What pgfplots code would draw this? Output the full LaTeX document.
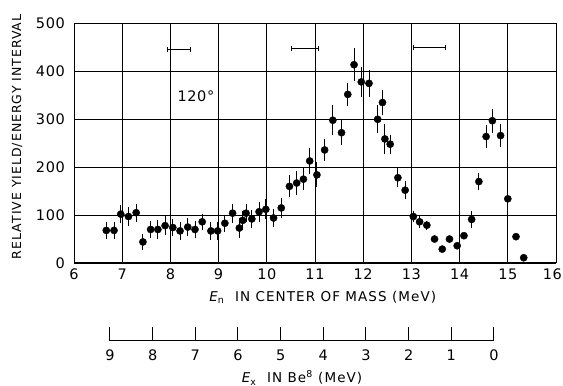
\documentclass[border=0pt]{standalone}
\usepackage{pgfplots}
\pgfplotsset{compat=1.18}
\usepackage{fontspec}
\setmainfont{DejaVu Sans}
\newfontfamily\lab[LetterSpace=8]{DejaVu Sans}
\newfontfamily\tck[LetterSpace=4]{DejaVu Sans}
\begin{document}
\begin{tikzpicture}
\useasboundingbox (0,0) rectangle (563pt,386pt);
\begin{axis}[
  at={(74pt,123pt)}, anchor=south west,
  width=482pt, height=239.5pt, scale only axis,
  xmin=6, xmax=16, ymin=0, ymax=500,
  xtick={6,...,15}, ytick={0,100,...,500},
  extra x ticks={16},
  extra x tick style={grid=none, xticklabel style={anchor=north east, xshift=6pt}},
  grid=major,
  major grid style={black, line width=0.7pt},
  axis line style={black, line width=1pt},
  major tick length=0pt,
  /pgf/number format/assume math mode=true,
  tick label style={font=\tck\fontsize{14.5}{14.5}\selectfont, inner sep=0pt},
  yticklabel style={anchor=east, xshift=-9pt},
  xticklabel style={anchor=north, yshift=-6pt},
  xlabel={{\itshape E}\textsubscript{n}\ \ IN CENTER OF MASS (MeV)},
  xlabel style={font=\lab\fontsize{13.5}{13.5}\selectfont, at={(axis description cs:0.516,-0.143)}, anchor=center},
  ylabel={RELATIVE YIELD/ENERGY INTERVAL},
  ylabel style={font=\lab\fontsize{12.5}{12.5}\selectfont, at={(axis description cs:-0.118,0.527)}, anchor=center, rotate=0},
  clip=false,
]
\addplot[black, only marks, mark=*, mark size=3.6pt,
  error bars/.cd, y dir=both, y explicit,
  error bar style={black, line width=0.9pt},
  error mark options={black, line width=0.9pt, mark size=2pt}]
  table[x=x, y=y, y error=e] {
x y e
6.67 68 14
6.83 68 13
6.97 102 15
7.13 97 15
7.29 105 15
7.43 44 12
7.59 70 14
7.74 70 15
7.89 78 15
8.05 74 13
8.20 67 14
8.36 75 14
8.51 70 14
8.66 86 13
8.84 67 14
8.98 67 15
9.13 83 14
9.29 104 16
9.43 73 17
9.50 89 15
9.57 104 15
9.69 92 15
9.84 107 17
9.98 112 17
10.14 94 15
10.30 115 17
10.47 160 19
10.62 167 20
10.76 175 19
10.89 213 23
11.04 184 22
11.20 236 18
11.37 298 27
11.55 272 22
11.68 352 20
11.81 414 30
11.96 378 27
12.12 375 24
12.30 300 25
12.40 335 22
12.45 259 28
12.56 248 16
12.72 178 16
12.87 152 15
13.04 97 8
13.17 86 8
13.32 79 5
14.25 91 13
14.40 170 14
14.55 264 20
14.68 297 21
14.85 266 20
15.00 134 14
};
\addplot[black, only marks, mark=*, mark size=3.6pt] table {
13.48 50
13.64 29
13.79 50
13.95 36
14.09 57
15.17 55
15.33 11
};
% energy resolution bars
\addplot[draw=none, mark=none,
  error bars/.cd, x dir=both, x explicit,
  error bar style={black, line width=0.9pt},
  error mark options={black, line width=0.9pt, rotate=90, mark size=2.5pt}]
  coordinates {(8.18,446) +- (0.243,0) (10.79,447) +- (0.276,0) (13.37,450) +- (0.33,0)};
\node[font=\tck\fontsize{14.5}{14.5}\selectfont] at (axis cs:8.53,349) {120\textdegree};
\end{axis}
\begin{axis}[
  at={(110pt,45.3pt)}, anchor=south west,
  width=384pt, height=13.4pt, scale only axis,
  xmin=0, xmax=9, x dir=reverse, ymin=0, ymax=1,
  axis x line*=bottom, axis y line=none,
  x axis line style={-, black, line width=1pt},
  xtick={0,...,9},
  xtick align=inside,
  major tick length=13.4pt,
  major tick style={black, line width=1pt},
  /pgf/number format/assume math mode=true,
  tick label style={font=\tck\fontsize{14.5}{14.5}\selectfont, inner sep=0pt},
  xticklabel style={anchor=north, yshift=-9pt},
  xlabel={{\itshape E}\textsubscript{x}\ \ IN Be\textsuperscript{8} (MeV)},
  xlabel style={font=\lab\fontsize{13.5}{13.5}\selectfont, at={(axis description cs:0.5,-2.78)}, anchor=center},
]
\end{axis}
\end{tikzpicture}
\end{document}
